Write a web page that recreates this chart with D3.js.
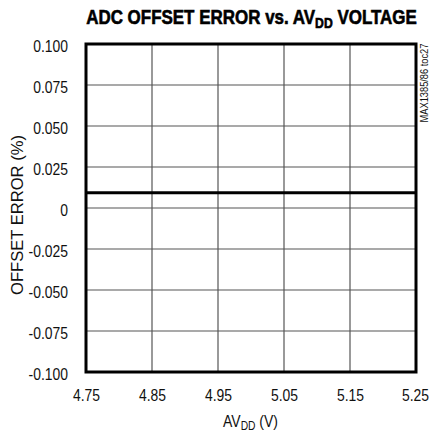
<!DOCTYPE html>
<html><head><meta charset="utf-8">
<script src="https://cdn.jsdelivr.net/npm/d3@7"></script>
<style>body{margin:0;background:#fff}svg{display:block}text{font-family:"Liberation Sans",Arial,sans-serif}</style>
</head><body><svg id="c" width="429" height="433"></svg>
<script>
const xTicks = [4.75, 4.85, 4.95, 5.05, 5.15, 5.25];
const yTicks = [-0.100, -0.075, -0.050, -0.025, 0, 0.025, 0.050, 0.075, 0.100];
const yTickLabels = ["-0.100", "-0.075", "-0.050", "-0.025", "0", "0.025", "0.050", "0.075", "0.100"];
const voltage = [4.75, 4.85, 4.95, 5.05, 5.15, 5.25];
const offsetError = [0.0093, 0.0093, 0.0093, 0.0093, 0.0093, 0.0093];

const svg = d3.select("#c");
const L = 86, R = 416, T = 44, B = 372;
const x = d3.scaleLinear().domain([4.75, 5.25]).range([L, R]);
const y = d3.scaleLinear().domain([-0.1, 0.1]).range([B, T]);
const SX = 0.82;

// grid
svg.append("g").selectAll("line").data(xTicks.slice(1, -1)).join("line")
  .attr("x1", d => x(d)).attr("x2", d => x(d)).attr("y1", T).attr("y2", B)
  .attr("stroke", "#555").attr("stroke-width", 1.2);
svg.append("g").selectAll("line").data(yTicks.slice(1, -1)).join("line")
  .attr("y1", d => y(d)).attr("y2", d => y(d)).attr("x1", L).attr("x2", R)
  .attr("stroke", "#555").attr("stroke-width", 1.2);

// data line
svg.append("path").datum(voltage.map((v, i) => [v, offsetError[i]]))
  .attr("d", d3.line().x(d => x(d[0])).y(d => y(d[1])))
  .attr("fill", "none").attr("stroke", "#000").attr("stroke-width", 3);

// frame
svg.append("rect").attr("x", L).attr("y", T).attr("width", R - L).attr("height", B - T)
  .attr("fill", "none").attr("stroke", "#000").attr("stroke-width", 3);

// y axis labels
const yAxis = d3.axisLeft(y).tickValues(yTicks).tickSize(0).tickPadding(0)
  .tickFormat((d, i) => yTickLabels[i]);
const gy = svg.append("g").attr("transform", `translate(${L},0)`).call(yAxis);
gy.select(".domain").remove();
gy.selectAll("text").attr("font-size", 17).attr("fill", "#111").attr("x", 0).attr("dy", "0.45em")
  .attr("transform", `translate(-18,0) scale(${SX},1)`)
  .style("font-family", '"Liberation Sans",Arial,sans-serif');

// x axis labels
const xAxis = d3.axisBottom(x).tickValues(xTicks).tickSize(0).tickPadding(17)
  .tickFormat(d3.format(".2f"));
const gx = svg.append("g").attr("transform", `translate(0,${B})`).call(xAxis);
gx.select(".domain").remove();
gx.selectAll("text").attr("font-size", 17).attr("fill", "#111")
  .attr("transform", (d, i) => `translate(${i === xTicks.length - 1 ? -1 : 0},0) scale(${SX},1)`)
  .style("font-family", '"Liberation Sans",Arial,sans-serif');

function fit(t, targetW, tx, ty, rot) {
  const w = t.node().getBBox().width;
  t.attr("transform", `translate(${tx},${ty}) rotate(${rot}) scale(${targetW / w},1)`);
}

// title
const title = svg.append("text").attr("text-anchor", "middle")
  .attr("font-size", 19.5).attr("font-weight", "bold").attr("fill", "#000")
  .attr("stroke", "#000").attr("stroke-width", 0.6);
title.append("tspan").text("ADC OFFSET ERROR vs. AV");
title.append("tspan").text("DD").attr("font-size", 14).attr("dy", 3.5);
title.append("tspan").text(" VOLTAGE").attr("dy", -3.5);
fit(title, 331, 251.5, 24, 0);

// x label
const xl = svg.append("text").attr("text-anchor", "middle")
  .attr("font-size", 17).attr("fill", "#111");
xl.append("tspan").text("AV");
xl.append("tspan").text("DD").attr("font-size", 12.5).attr("dy", 3);
xl.append("tspan").text(" (V)").attr("dy", -3);
fit(xl, 55, 250.5, 427, 0);

// y label
const yl = svg.append("text").attr("text-anchor", "middle")
  .attr("font-size", 17).attr("fill", "#111").text("OFFSET ERROR (%)");
fit(yl, 160, 22.5, 215, -90);

// side note
const sn = svg.append("text").attr("text-anchor", "middle")
  .attr("font-size", 11.5).attr("fill", "#111").text("MAX1385/86 toc27");
fit(sn, 79, 428, 83, -90);
</script></body></html>
